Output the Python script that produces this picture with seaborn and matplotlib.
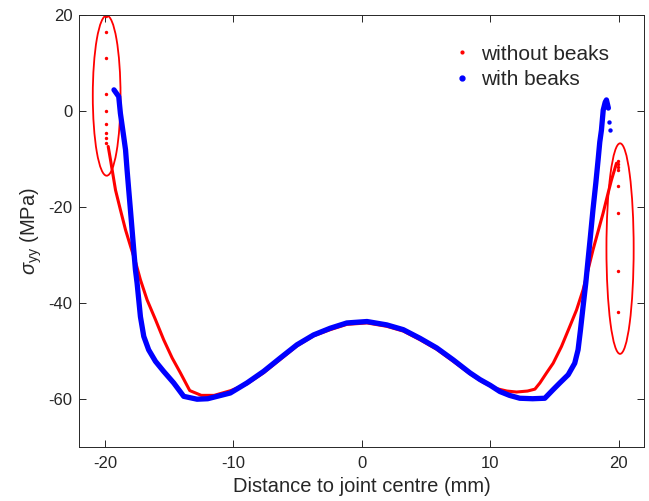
import matplotlib
matplotlib.use('Agg')
import matplotlib.pyplot as plt
from matplotlib.patches import Ellipse
from matplotlib.lines import Line2D
import seaborn as sns

sns.set_style('ticks')
plt.rcParams['font.family'] = ['Liberation Sans', 'DejaVu Sans']
plt.rcParams['mathtext.fontset'] = 'custom'
plt.rcParams['mathtext.rm'] = 'Liberation Sans'
plt.rcParams['mathtext.it'] = 'Liberation Sans:italic'
plt.rcParams['axes.unicode_minus'] = False

# ---- data ----------------------------------------------------------------
# without beaks : continuous part
red_x = [-19.75, -19.57, -19.44, -19.18, -18.8, -18.4, -18.0, -17.6, -17.24,
         -16.72, -16.07, -15.43, -14.77, -14.13, -13.4, -12.5, -11.5, -10.2,
         -8.94, -7.65, -6.35, -5.05, -3.76, -2.46, -1.17, 0.4, 1.94, 3.23,
         4.53, 5.83, 7.12, 8.42, 9.46, 10.5, 11.3, 12.05, 12.9, 13.48, 13.87,
         14.39, 14.9, 15.55, 16.2, 16.72, 17.23, 17.62, 18.0, 18.4, 18.79,
         19.18, 19.44, 19.83]
red_y = [-7.4, -10.2, -12.3, -16.5, -20.6, -24.8, -28.3, -31.7, -35.2,
         -39.4, -43.5, -47.7, -51.5, -54.6, -58.3, -59.3, -59.3, -58.3,
         -56.9, -54.6, -51.8, -49.0, -46.9, -45.6, -44.5, -44.2, -44.9, -45.9,
         -47.7, -49.7, -52.2, -54.8, -56.6, -57.9, -58.4, -58.6, -58.4, -58.0, -56.7,
         -54.6, -52.6, -49.1, -44.9, -41.5, -37.3, -33.1, -29.0, -25.1, -21.3,
         -17.1, -14.4, -10.9]
# without beaks : isolated points at the edges
red_edge_x = [-19.92] * 9 + [19.95] * 8
red_edge_y = [19.8, 16.4, 11.0, 3.5, -0.1, -2.8, -4.5, -5.7, -6.6,
              -10.4, -11.0, -11.6, -12.3, -15.6, -21.3, -33.3, -41.9]

# with beaks
blue_x = [-19.3, -18.93, -18.8, -18.54, -18.4, -18.28, -18.15, -18.02, -17.89,
          -17.76, -17.63, -17.5, -17.37, -17.24, -16.98, -16.6, -16.07, -15.43,
          -14.65, -13.87, -12.83, -12.0, -10.24, -8.94, -7.65, -6.35,
          -5.05, -3.76, -2.46, -1.17, 0.4, 1.94, 3.23, 4.53, 5.83, 7.12, 8.42,
          9.2, 10.0, 10.75, 11.5, 12.3, 13.3, 14.25, 14.9, 15.42, 16.07, 16.58,
          16.84, 17.03, 17.23, 17.44, 17.62, 17.8, 18.0, 18.22, 18.4, 18.53,
          18.66, 18.8, 18.95, 19.05, 19.2]
blue_y = [4.4, 3.0, -0.5, -5.4, -8.1, -12.3, -16.5, -20.6, -24.8,
          -29.0, -33.1, -35.9, -39.4, -42.9, -47.0, -49.8, -52.2, -54.3,
          -56.7, -59.5, -60.1, -60.0, -58.8, -56.7, -54.3, -51.5,
          -48.75, -46.7, -45.3, -44.2, -43.9, -44.6, -45.6, -47.4, -49.4, -51.9, -54.6,
          -56.0, -57.2, -58.5, -59.3, -59.9, -60.0, -59.9, -58.1, -56.7, -55.0, -52.6,
          -49.8, -45.6, -40.8, -35.9, -31.0, -26.2, -20.6, -15.1, -10.2, -6.5,
          -4.0, 0.2, 1.8, 2.3, 0.6]
blue_edge_x = [19.25, 19.36]
blue_edge_y = [-2.2, -4.0]

# ---- figure ----------------------------------------------------------------
fig = plt.figure(figsize=(6.49, 5.01), dpi=100)
ax = fig.add_axes([0.1222, 0.1084, 0.8706, 0.8616])

sns.lineplot(x=red_x, y=red_y, sort=False, color='red', lw=2.2,
             solid_joinstyle='round', ax=ax)
sns.scatterplot(x=red_edge_x, y=red_edge_y, color='red', s=6, linewidth=0, ax=ax)
sns.lineplot(x=blue_x, y=blue_y, sort=False, color='blue', lw=3.8,
             solid_joinstyle='round', solid_capstyle='round', ax=ax)
sns.scatterplot(x=blue_edge_x, y=blue_edge_y, color='blue', s=10, linewidth=0, ax=ax)

ax.add_patch(Ellipse((-19.87, 3.2), 2.16, 33.4, fill=False, ec='red', lw=1.3))
ax.add_patch(Ellipse((20.11, -28.7), 2.12, 43.9, fill=False, ec='red', lw=1.3))

ax.set_xlim(-22, 22)
ax.set_ylim(-70, 20)
ax.set_xticks([-20, -10, 0, 10, 20])
ax.set_yticks([-60, -40, -20, 0, 20])

for sp in ax.spines.values():
    sp.set_visible(True)
    sp.set_color('#262626')
    sp.set_linewidth(0.7)
ax.tick_params(direction='in', top=True, right=True, length=5, width=0.7,
               colors='#262626', labelsize=12)
ax.tick_params(axis='x', pad=7)
ax.tick_params(axis='y', pad=5)

ax.set_xlabel('Distance to joint centre (mm)', fontsize=14.5, color='#262626', labelpad=4)
ax.set_ylabel(r'$\sigma_{\mathrm{yy}}$ (MPa)', fontsize=14.5, color='#262626', labelpad=3)

handles = [Line2D([], [], ls='', marker='.', color='red', markersize=4),
           Line2D([], [], ls='', marker='.', color='blue', markersize=7)]
ax.legend(handles, ['without beaks', 'with beaks'], loc='upper right',
          bbox_to_anchor=(0.97, 0.975), frameon=False, fontsize=15,
          handlelength=0.8, handletextpad=0.5, labelspacing=0.3)

fig.savefig('out.png', dpi=100)
